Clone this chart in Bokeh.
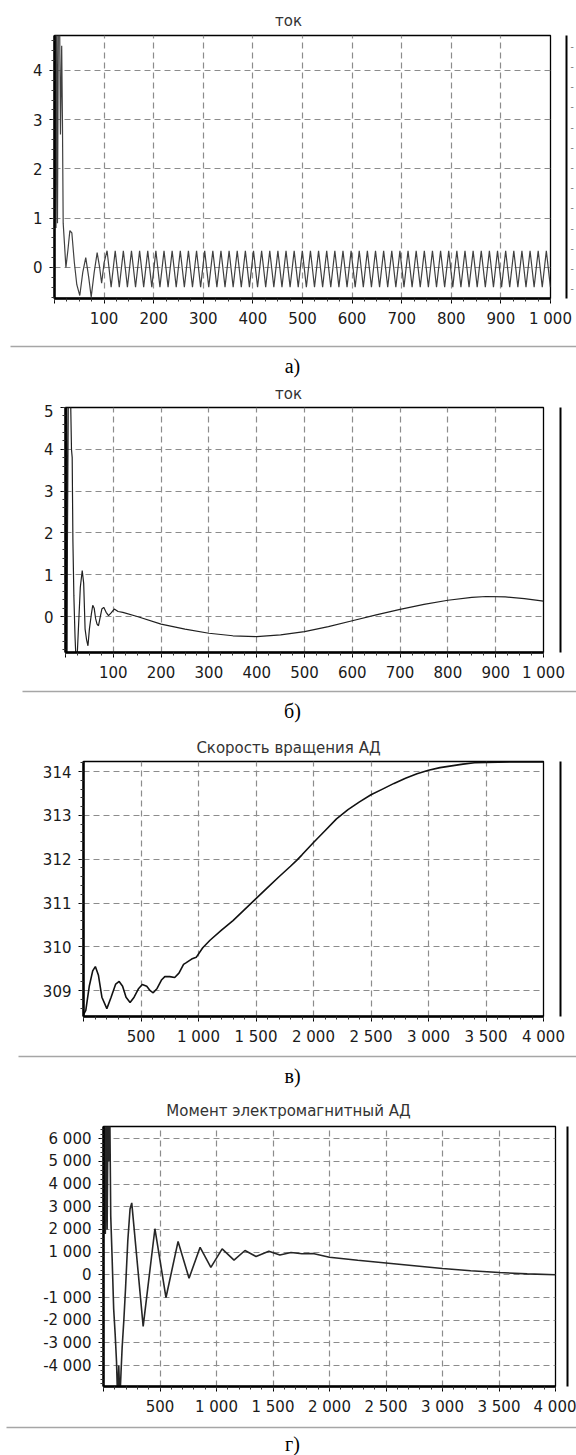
from bokeh.plotting import figure
from bokeh.models import (Range1d, SingleIntervalTicker, FixedTicker, LinearAxis, Label,
                          BoxAnnotation, CustomJSTickFormatter)
from bokeh.embed import file_html
from bokeh.resources import INLINE

# ---------------- data ----------------
# panel а) "ток"
A_T = [0, 1.5, 3, 4.5, 6, 8, 10, 12, 14.5, 16, 17.5, 20, 23, 27, 31, 35, 40, 45, 51, 57,
       63, 69, 74, 80, 86, 91, 95, 100,
       106.0, 114.2, 122.4, 130.6, 138.8, 147.0, 155.2, 163.4, 171.6, 179.8,
       188.0, 196.2, 204.4, 212.6, 220.8, 229.0, 237.2, 245.4, 253.6, 261.8,
       270.0, 278.2, 286.4, 294.6, 302.8, 311.0, 319.2, 327.4, 335.6, 343.8,
       352.0, 360.2, 368.4, 376.6, 384.8, 393.0, 401.2, 409.4, 417.6, 425.8,
       434.0, 442.2, 450.4, 458.6, 466.8, 475.0, 483.2, 491.4, 499.6, 507.8,
       516.0, 524.2, 532.4, 540.6, 548.8, 557.0, 565.2, 573.4, 581.6, 589.8,
       598.0, 606.2, 614.4, 622.6, 630.8, 639.0, 647.2, 655.4, 663.6, 671.8,
       680.0, 688.2, 696.4, 704.6, 712.8, 721.0, 729.2, 737.4, 745.6, 753.8,
       762.0, 770.2, 778.4, 786.6, 794.8, 803.0, 811.2, 819.4, 827.6, 835.8,
       844.0, 852.2, 860.4, 868.6, 876.8, 885.0, 893.2, 901.4, 909.6, 917.8,
       926.0, 934.2, 942.4, 950.6, 958.8, 967.0, 975.2, 983.4, 991.6, 999.8]
A_V = [0.8, 5.5, 0.8, 5.5, 0.9, 5.5, 5.5, 2.7, 4.5, 3.0, 0.9, 0.5, 0.0, 0.35, 0.75, 0.7, 0.1, -0.35, -0.57, -0.1,
       0.2, -0.2, -0.6, -0.1, 0.3, 0.0, -0.32, 0.1,
       0.34, -0.40, 0.34, -0.40, 0.34, -0.40, 0.34, -0.40, 0.34, -0.40,
       0.34, -0.40, 0.34, -0.40, 0.34, -0.40, 0.34, -0.40, 0.34, -0.40,
       0.34, -0.40, 0.34, -0.40, 0.34, -0.40, 0.34, -0.40, 0.34, -0.40,
       0.34, -0.40, 0.34, -0.40, 0.34, -0.40, 0.34, -0.40, 0.34, -0.40,
       0.34, -0.40, 0.34, -0.40, 0.34, -0.40, 0.34, -0.40, 0.34, -0.40,
       0.34, -0.40, 0.34, -0.40, 0.34, -0.40, 0.34, -0.40, 0.34, -0.40,
       0.34, -0.40, 0.34, -0.40, 0.34, -0.40, 0.34, -0.40, 0.34, -0.40,
       0.34, -0.40, 0.34, -0.40, 0.34, -0.40, 0.34, -0.40, 0.34, -0.40,
       0.34, -0.40, 0.34, -0.40, 0.34, -0.40, 0.34, -0.40, 0.34, -0.40,
       0.34, -0.40, 0.34, -0.40, 0.34, -0.40, 0.34, -0.40, 0.34, -0.40,
       0.34, -0.40, 0.34, -0.40, 0.34, -0.40, 0.34, -0.40, 0.34, -0.40]

# panel б) "ток"
B_T = [0, 0.8, 1.6, 2.4, 3.2, 4, 6, 9, 11, 12.5, 14, 15.5, 17.5, 20, 23,
       27, 31, 35, 38, 41, 44, 47, 50, 54, 57, 60, 63, 66, 69, 72, 76, 80, 85, 90, 95,
       102, 110, 120, 150, 200, 250, 300, 350, 400, 450, 500, 550, 600, 650, 700, 750,
       800, 850, 880, 920, 960, 1000]
B_V = [0.0, 5.5, -1.5, 5.5, -1.5, 1.7, 5.5, 5.5, 5.0, 4.0, 3.8, 1.8, 0.5, -0.5, -1.3,
       -0.3, 0.7, 1.1, 0.8, -0.3, -0.55, -0.7, -0.3, 0.05, 0.27, 0.2, -0.05, -0.18, -0.22, -0.05, 0.18, 0.22, 0.1, 0.02, 0.08,
       0.18, 0.12, 0.1, 0.0, -0.18, -0.3, -0.4, -0.46, -0.48, -0.44, -0.36, -0.24, -0.1, 0.04, 0.17, 0.29,
       0.39, 0.46, 0.48, 0.47, 0.43, 0.37]

# panel в) "Скорость вращения АД"
C_T = [0, 20, 50, 80, 103, 130, 160, 203, 240, 280, 310, 340, 370, 405, 440, 480, 511, 550, 580, 606,
       640, 680, 707, 750, 793, 830, 870, 894, 940, 980, 1037, 1100, 1200, 1300, 1400, 1500, 1600, 1700,
       1800, 1856, 1900, 2000, 2100, 2200, 2300, 2400, 2500, 2600, 2700, 2800, 2900, 3000, 3100, 3200,
       3300, 3400, 3500, 3750, 4000]
C_V = [308.45, 308.55, 309.1, 309.45, 309.55, 309.35, 308.85, 308.59, 308.85, 309.15, 309.21, 309.1, 308.85,
       308.73, 308.85, 309.05, 309.14, 309.1, 309.0, 308.95, 309.05, 309.25, 309.32, 309.32, 309.3, 309.4,
       309.6, 309.64, 309.72, 309.76, 309.98, 310.15, 310.38, 310.6, 310.85, 311.1, 311.35, 311.6,
       311.84, 311.98, 312.1, 312.38, 312.65, 312.92, 313.13, 313.31, 313.47, 313.6, 313.73, 313.85,
       313.95, 314.03, 314.09, 314.13, 314.17, 314.2, 314.21, 314.22, 314.22]

# panel г) "Момент электромагнитный АД"
D_T = [0, 8, 16, 24, 32, 40, 48, 56, 64, 76, 90, 103, 115, 125, 135, 145, 155, 165, 180, 195,
       215, 235, 250, 351, 455, 553, 660, 757, 855, 950, 1050, 1155, 1252, 1350, 1463, 1561,
       1659, 1756, 1854, 2000, 2250, 2500, 2750, 3000, 3250, 3500, 3750, 4000]
D_V = [1800, 7000, 1800, 7000, 2000, 7000, 5000, 7000, 2600, 800, -1500, -2600, -3800, -5500, -4000,
       -5500, -4300, -3200, -2000, -600, 1500, 2900, 3170, -2270, 2030, -1000, 1470, -150, 1210, 330,
       1140, 650, 1070, 810, 1040, 870, 980, 930, 940, 770, 640, 520, 400, 280, 180, 100, 40, 0]

TITLES = ["ток", "ток", "Скорость вращения АД", "Момент электромагнитный АД"]
CAPTIONS = ["а)", "б)", "в)", "г)"]

X_TICKS_AB = [100, 200, 300, 400, 500, 600, 700, 800, 900, 1000]
X_LABELS_AB = ["100", "200", "300", "400", "500", "600", "700", "800", "900", "1 000"]
X_TICKS_CD = [500, 1000, 1500, 2000, 2500, 3000, 3500, 4000]
X_LABELS_CD = ["500", "1 000", "1 500", "2 000", "2 500", "3 000", "3 500", "4 000"]
Y_TICKS_A = [0, 1, 2, 3, 4]
Y_LABELS_A = ["0", "1", "2", "3", "4"]
Y_TICKS_B = [0, 1, 2, 3, 4, 5]
Y_LABELS_B = ["0", "1", "2", "3", "4", "5"]
Y_TICKS_C = [309, 310, 311, 312, 313, 314]
Y_LABELS_C = ["309", "310", "311", "312", "313", "314"]
Y_TICKS_D = [-4000, -3000, -2000, -1000, 0, 1000, 2000, 3000, 4000, 5000, 6000]
Y_LABELS_D = ["-4 000", "-3 000", "-2 000", "-1 000", "0", "1 000", "2 000", "3 000",
              "4 000", "5 000", "6 000"]

W = 576
FONT = "DejaVu Sans"


def strip(h, sep=None, caption=None, title=None):
    """Band between two charts: separator rule, caption of the chart above,
    title of the chart below (positions in px from the band's top)."""
    s = figure(width=W, height=h, output_backend="svg", toolbar_location=None,
               x_range=Range1d(0, W), y_range=Range1d(h, 0),
               x_axis_type=None, y_axis_type=None,
               min_border_left=0, min_border_right=0, min_border_top=0, min_border_bottom=0)
    s.title.visible = False
    s.grid.visible = False
    s.outline_line_color = None
    s.background_fill_color = "white"
    s.border_fill_color = "white"
    if sep is not None:
        sy, sx0 = sep
        s.add_layout(BoxAnnotation(left=sx0, right=W, top=sy - 0.8, bottom=sy + 0.8,
                                   fill_color="#a6a6a6", fill_alpha=1.0, line_color=None))
    if caption is not None:
        text, cy = caption
        s.add_layout(Label(x=292, y=cy, text=text, text_align="center", text_baseline="middle",
                           text_font="Liberation Serif", text_font_size="20px",
                           text_color="black"))
    if title is not None:
        text, ty = title
        s.add_layout(Label(x=288, y=ty, text=text, text_align="center", text_baseline="middle",
                           text_font=FONT, text_font_size="15px", text_color="#333333"))
    return s


def panel(h, border, gap, dots, xr, yr, xstep, xminor, ystep, yminor, xt, xl, yt, yl,
          t, v, lc, lw):
    top, bottom, left, right = border
    p = figure(width=W, height=h, output_backend="svg", toolbar_location=None,
               x_range=Range1d(*xr), y_range=Range1d(*yr),
               min_border_left=left, min_border_right=right,
               min_border_top=top, min_border_bottom=bottom)
    p.title.visible = False
    p.background_fill_color = "white"
    p.border_fill_color = "white"
    p.outline_line_color = "black"
    p.outline_line_width = 1.3

    p.xaxis.ticker = SingleIntervalTicker(interval=xstep, num_minor_ticks=xminor)
    p.yaxis.ticker = SingleIntervalTicker(interval=ystep, num_minor_ticks=yminor)
    xo = dict(zip(xt, xl))
    xo[0] = ""
    p.xaxis.major_label_overrides = xo
    p.yaxis.major_label_overrides = dict(zip(yt, yl))
    for ax in (p.xaxis[0], p.yaxis[0]):
        ax.axis_line_width = 2.5
        ax.axis_line_color = "black"
        ax.major_tick_in = 0
        ax.major_tick_out = 5
        ax.minor_tick_in = 0
        ax.minor_tick_out = 3
        ax.major_tick_line_color = "black"
        ax.minor_tick_line_color = "#333333"
        ax.major_label_text_font = FONT
        ax.major_label_text_font_size = "15px"
        ax.major_label_text_color = "#1a1a1a"
    p.xaxis.major_label_standoff = 6
    p.yaxis.major_label_standoff = 7

    for g in (p.xgrid[0], p.ygrid[0]):
        g.grid_line_color = "#8c8c8c"
        g.grid_line_dash = "6 4"
        g.grid_line_width = 1.2

    p.line(t, v, line_color=lc, line_width=lw)

    # the cut-off legend box at the right edge: an invisible spacer axis, then its edge line
    y0, y1 = yr
    mid = (y0 + y1) / 2
    spacer = LinearAxis(ticker=FixedTicker(ticks=[mid]), axis_line_color=None,
                        major_tick_out=gap, major_tick_in=0, minor_tick_out=0, minor_tick_in=0,
                        major_tick_line_color=None, minor_tick_line_color=None,
                        major_label_standoff=0, major_label_text_font_size="1px",
                        formatter=CustomJSTickFormatter(code="return ''"))
    if dots:
        step = (y1 - y0) / 13.0
        marks = [y0 + step * (k + 0.5) for k in range(13)]
        edge = LinearAxis(ticker=FixedTicker(ticks=marks), axis_line_color="black",
                          axis_line_width=2, major_tick_out=0, major_tick_in=0,
                          minor_tick_out=0, minor_tick_in=0,
                          major_tick_line_color=None, minor_tick_line_color=None,
                          major_label_standoff=4, major_label_text_font_size="10px",
                          major_label_text_color="#808080",
                          formatter=CustomJSTickFormatter(code="return '-'"))
    else:
        edge = LinearAxis(ticker=FixedTicker(ticks=[mid]), axis_line_color="black",
                          axis_line_width=2, major_tick_out=0, major_tick_in=0,
                          minor_tick_out=0, minor_tick_in=0,
                          major_tick_line_color=None, minor_tick_line_color=None,
                          major_label_standoff=0, major_label_text_font_size="1px",
                          formatter=CustomJSTickFormatter(code="return ''"))
    p.add_layout(spacer, "right")
    p.add_layout(edge, "right")
    return p


roots = [
    strip(31, title=(TITLES[0], 20)),
    panel(305, (4, 38, 54, 26), 16, True, (0, 1000), (-0.63, 4.71), 100, 4, 1, 5,
          X_TICKS_AB, X_LABELS_AB, Y_TICKS_A, Y_LABELS_A, A_T, A_V, "#404040", 1.2),
    strip(68, sep=(10, 10), caption=(CAPTIONS[0], 29), title=(TITLES[1], 57)),
    panel(281, (3, 33, 65, 33), 17, False, (0, 1000), (-0.86, 5.0), 100, 4, 1, 5,
          X_TICKS_AB, X_LABELS_AB, Y_TICKS_B, Y_LABELS_B, B_T, B_V, "#202020", 1.2),
    strip(73, sep=(6, 22), caption=(CAPTIONS[1], 25), title=(TITLES[2], 62)),
    panel(292, (3, 34, 83, 33), 17, False, (0, 4000), (308.41, 314.23), 500, 5, 1, 5,
          X_TICKS_CD, X_LABELS_CD, Y_TICKS_C, Y_LABELS_C, C_T, C_V, "#111111", 1.6),
    strip(73, sep=(6, 18), caption=(CAPTIONS[2], 25), title=(TITLES[3], 60)),
    panel(297, (3, 34, 103, 21), 12, False, (0, 4000), (-4920, 6533), 500, 5, 1000, 5,
          X_TICKS_CD, X_LABELS_CD, Y_TICKS_D, Y_LABELS_D, D_T, D_V, "#262626", 1.6),
    strip(35, sep=(7, 6), caption=(CAPTIONS[3], 23)),
]

open("out.html", "w").write(file_html(roots, INLINE))
